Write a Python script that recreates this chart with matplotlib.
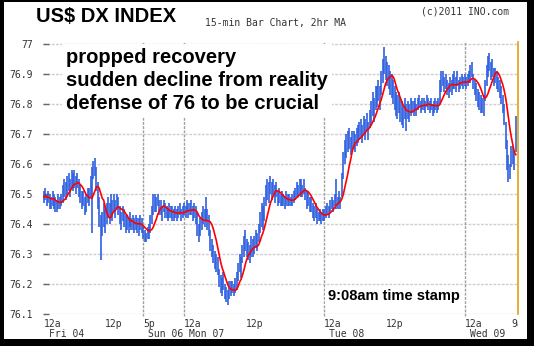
import matplotlib
matplotlib.use("Agg")
import matplotlib.pyplot as plt
from matplotlib.patches import Rectangle
import numpy as np
import pandas as pd

# 15-minute bar highs / lows, in hundredths above 76.00, one list per session
fri_high = [51, 52, 50, 51, 50, 49, 51, 50, 49, 48, 50, 49,
            50, 53, 55, 54, 56, 57, 55, 58, 57, 58, 56, 57,
            55, 53, 51, 51, 49, 50, 52, 52, 56, 59, 61, 62,
            59, 54, 49, 43, 44, 47, 45, 47, 49, 47, 50, 48,
            50, 48, 50, 49, 46, 44, 46, 45, 43, 43, 42, 44,
            42, 43, 42, 43, 42, 42, 43, 42]
fri_low = [47, 48, 46, 47, 45, 45, 46, 45, 44, 44, 45, 45,
           46, 47, 49, 48, 50, 51, 49, 52, 51, 52, 50, 52,
           49, 47, 45, 46, 43, 44, 47, 46, 49, 37, 55, 56,
           51, 45, 39, 28, 36, 39, 37, 40, 42, 40, 43, 41,
           44, 42, 45, 43, 40, 38, 41, 39, 37, 38, 37, 39,
           38, 38, 37, 38, 37, 36, 38, 37]
sun_high = [39, 38, 37, 39, 40, 43, 46, 50, 50, 49, 50, 48,
            48, 46, 48, 47, 46, 45, 47, 46, 46, 45, 46, 45,
            46, 47, 45, 46]
sun_low = [35, 34, 34, 35, 35, 37, 40, 43, 44, 44, 46, 43,
           43, 41, 44, 42, 42, 41, 42, 42, 41, 41, 42, 41,
           42, 43, 41, 42]
mon_high = [47, 46, 48, 47, 47, 48, 46, 47, 46, 44, 40, 42,
            44, 46, 45, 49, 45, 43, 38, 35, 33, 31, 30, 29,
            25, 23, 22, 24, 20, 19, 18, 21, 21, 21, 20, 22,
            24, 27, 30, 29, 33, 36, 38, 35, 34, 33, 36, 35,
            36, 38, 37, 40, 44, 47, 46, 49, 53, 55, 54, 56,
            54, 55, 53, 54, 51, 52, 50, 51, 50, 49, 51, 50,
            50, 49, 50, 51, 52, 54, 53, 55, 55, 53, 55, 52,
            51, 51, 49, 49, 47, 46, 47, 45, 44, 45, 44, 45]
mon_low = [43, 42, 44, 42, 43, 43, 41, 42, 40, 36, 34, 36,
           38, 40, 39, 41, 38, 36, 31, 29, 27, 25, 24, 23,
           19, 17, 16, 18, 15, 14, 13, 15, 16, 17, 16, 17,
           18, 21, 24, 22, 27, 29, 31, 29, 28, 27, 29, 29,
           30, 32, 31, 34, 37, 39, 38, 41, 46, 48, 47, 50,
           48, 50, 47, 49, 46, 47, 46, 46, 46, 45, 46, 46,
           46, 46, 46, 47, 48, 49, 49, 50, 49, 49, 50, 48,
           45, 46, 44, 44, 42, 41, 42, 40, 41, 41, 40, 41]
tue_high = [45, 46, 47, 46, 48, 49, 48, 50, 55, 49, 51, 49,
            57, 64, 68, 70, 71, 72, 69, 71, 71, 70, 72, 73,
            74, 75, 73, 76, 75, 77, 74, 78, 81, 84, 82, 86,
            86, 88, 86, 91, 95, 99, 96, 94, 93, 91, 90, 88,
            86, 84, 83, 84, 82, 81, 79, 82, 80, 81, 80, 82,
            81, 81, 82, 80, 82, 83, 81, 82, 82, 81, 83, 82,
            81, 82, 80, 81, 82, 81, 82, 88, 91, 91, 89, 90,
            88, 87, 89, 88, 90, 91, 89, 91, 88, 89, 90, 89]
tue_low = [41, 42, 43, 42, 44, 45, 44, 46, 45, 45, 47, 45,
           49, 55, 60, 62, 64, 65, 63, 64, 65, 64, 66, 67,
           68, 69, 67, 70, 68, 71, 68, 72, 73, 76, 74, 78,
           79, 81, 78, 83, 87, 90, 88, 86, 85, 83, 82, 80,
           78, 76, 75, 77, 74, 73, 72, 75, 71, 75, 74, 76,
           77, 76, 78, 76, 78, 79, 77, 78, 78, 77, 79, 78,
           77, 78, 76, 77, 78, 77, 78, 80, 84, 86, 84, 85,
           83, 82, 84, 83, 85, 85, 84, 86, 84, 85, 86, 85]
wed_high = [90, 89, 90, 91, 93, 94, 90, 88, 87, 85, 84, 83,
            82, 83, 88, 93, 96, 97, 94, 95, 92, 92, 91, 89,
            88, 86, 83, 80, 74, 68, 63, 60, 66, 66, 64, 76]
wed_low = [86, 85, 86, 87, 87, 89, 85, 83, 81, 79, 78, 77,
           77, 76, 81, 86, 89, 91, 88, 89, 86, 87, 85, 84,
           82, 80, 77, 73, 65, 58, 54, 55, 59, 60, 58, 64]

# axis labels
y_levels = [76.1, 76.2, 76.3, 76.4, 76.5, 76.6, 76.7, 76.8, 76.9, 77.0]
y_labels = ["76.1", "76.2", "76.3", "76.4", "76.5", "76.6", "76.7", "76.8", "76.9", "77"]
hour_ticks = [0, 48, 68, 96, 144, 192, 240, 288, 324]
hour_labels = ["12a", "12p", "5p", "12a", "12p", "12a", "12p", "12a", "9a"]
hour_align = ["left", "center", "left", "left", "center", "left", "center", "left", "center"]
day_ticks = [0, 68, 96, 192, 288]
day_labels = ["Fri 04", "Sun 06", "Mon 07", "Tue 08", "Wed 09"]
session_breaks = [68, 96, 192, 288]

high = 76 + np.array(fri_high + sun_high + mon_high + tue_high + wed_high) / 100
low = 76 + np.array(fri_low + sun_low + mon_low + tue_low + wed_low) / 100
bars = np.arange(len(high))
# 2 hour moving average = 8 bars
ma = pd.Series((high + low) / 2).rolling(8, min_periods=1).mean()

W, H = 534, 346
fig = plt.figure(figsize=(W / 100, H / 100), dpi=100)
fig.patch.set_facecolor("black")
fig.patches.append(Rectangle((4 / W, 7 / H), (W - 11) / W, (H - 9) / H,
                             transform=fig.transFigure, facecolor="white",
                             edgecolor="none", zorder=-10))

ax = fig.add_axes([43 / W, 32 / H, 475 / W, 272 / H])
ax.set_facecolor("none")
ax.set_xlim(-0.5, 324.5)
ax.set_ylim(76.1, 77.007)
for s in ax.spines.values():
    s.set_visible(False)

mono = "DejaVu Sans Mono"

for lev in y_levels:
    ax.axhline(lev, color="#d2ccd2", lw=1, ls=(0, (2, 1)), zorder=1)
for b in session_breaks:
    ax.axvline(b, ymin=-0.008, ymax=1, color="#a0a0a0", lw=1, ls=(0, (2, 1)),
               clip_on=False, zorder=1)
ax.axvline(324.5, color="#e0a010", lw=1.2, clip_on=False, zorder=3)

ax.vlines(bars, low, high, color="#3060e0", lw=1.2, zorder=2)
ax.plot(bars, ma, color="#ff0000", lw=1.2, zorder=3)

ax.set_yticks(y_levels)
ax.set_yticklabels(y_labels, family=mono, fontsize=7, color="#333333")
ax.tick_params(axis="y", direction="in", length=4, width=1, color="#666666", pad=7)
ax.set_xticks([])

# time labels stop at the right edge of the plot
label_clip = Rectangle((0, 0), 518 / W, 1, transform=fig.transFigure)
for pos, txt, ha in zip(hour_ticks, hour_labels, hour_align):
    t = ax.annotate(txt, xy=(pos, 0), xycoords=("data", "axes fraction"),
                    xytext=(0, -3.5), textcoords="offset points", ha=ha, va="top",
                    family=mono, fontsize=7, color="#333333")
    t.set_clip_path(label_clip)
for pos, txt in zip(day_ticks, day_labels):
    ax.annotate(txt, xy=(pos, 0), xycoords=("data", "axes fraction"),
                xytext=(3.6, -10.5), textcoords="offset points", ha="left", va="top",
                family=mono, fontsize=7, color="#333333")

# headline and comments
fig.text(36 / W, 1 - 7 / H, "US$ DX INDEX", family="Liberation Sans", weight="bold",
         fontsize=14.5, va="top", ha="left")
fig.text(205 / W, 1 - 18 / H, "15-min Bar Chart, 2hr MA", family=mono, fontsize=7,
         va="top", ha="left", color="#333333")
fig.text(421 / W, 1 - 6 / H, "(c)2011 INO.com", family=mono, fontsize=7,
         va="top", ha="left", color="#333333")

fig.text(66 / W, 1 - 48 / H,
         "propped recovery\nsudden decline from reality\ndefense of 76 to be crucial",
         family="Liberation Sans", weight="bold", fontsize=14.5, va="top", ha="left",
         linespacing=1.27, zorder=5,
         bbox=dict(facecolor="white", edgecolor="none", pad=3))
fig.text(328 / W, 1 - 289 / H, "9:08am time stamp", family="Liberation Sans",
         weight="bold", fontsize=10.5, va="top", ha="left", zorder=5,
         bbox=dict(facecolor="white", edgecolor="none", pad=2))

fig.savefig("out.png", dpi=100, facecolor=fig.get_facecolor())
